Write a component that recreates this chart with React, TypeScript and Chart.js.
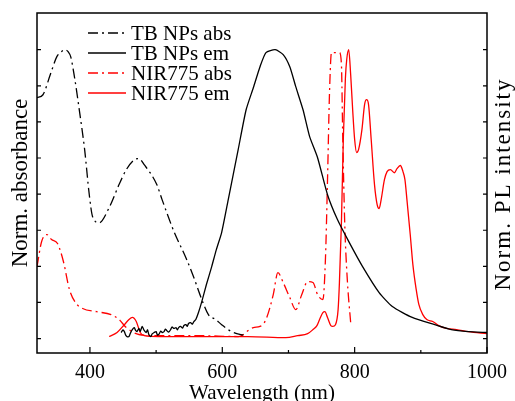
import React, { useEffect, useRef } from "react";
import { Chart, registerables } from "chart.js";

Chart.register(...registerables);

const FONT = "'Liberation Serif', 'Times New Roman', serif";

// TB NPs absorbance (normalized)
const tbAbsWl = [320, 329, 340, 350, 357, 362, 367, 371, 377, 384, 392, 399, 404, 414, 429, 444, 455, 467, 474, 482, 501, 509, 527, 545, 557, 569, 579, 590, 599, 614, 635];
const tbAbsVal = [0.834, 0.844, 0.913, 0.976, 0.993, 1.0, 0.993, 0.975, 0.9, 0.79, 0.654, 0.498, 0.422, 0.401, 0.453, 0.533, 0.585, 0.619, 0.623, 0.602, 0.533, 0.481, 0.37, 0.28, 0.211, 0.135, 0.083, 0.066, 0.048, 0.024, 0.01];

// TB NPs emission (normalized)
const tbEmWl = [447, 450, 452, 454, 456, 459, 461, 464, 467, 469, 471, 474, 476, 479, 482, 485, 487, 489, 492, 494, 497, 500, 502, 504, 507, 509, 512, 514, 516, 519, 522, 524, 527, 530, 532, 534, 537, 540, 542, 545, 547, 549, 552, 555, 557, 560, 564, 569, 576, 584, 591, 599, 609, 624, 636, 647, 657, 666, 680, 692, 702, 711, 722, 732, 744, 759, 774, 792, 812, 837, 857, 887, 921, 946, 972, 1000];
const tbEmVal = [0.021, 0.03, 0.024, 0.012, 0.007, 0.007, 0.018, 0.031, 0.038, 0.028, 0.024, 0.035, 0.025, 0.042, 0.028, 0.021, 0.03, 0.014, 0.007, 0.016, 0.021, 0.024, 0.012, 0.014, 0.026, 0.021, 0.024, 0.033, 0.028, 0.022, 0.031, 0.04, 0.035, 0.038, 0.03, 0.038, 0.042, 0.036, 0.045, 0.048, 0.042, 0.052, 0.055, 0.05, 0.059, 0.066, 0.09, 0.128, 0.187, 0.249, 0.308, 0.367, 0.481, 0.654, 0.792, 0.869, 0.941, 0.99, 1.0, 0.983, 0.941, 0.872, 0.792, 0.699, 0.626, 0.498, 0.412, 0.332, 0.249, 0.159, 0.111, 0.073, 0.048, 0.031, 0.024, 0.021];

// NIR775 absorbance (normalized)
const nirAbsWl = [320, 327, 335, 342, 351, 360, 369, 378, 389, 410, 432, 444, 455, 474, 504, 564, 624, 647, 657, 666, 677, 684, 692, 702, 711, 720, 729, 737, 744, 752, 756, 759, 762, 765, 767, 777, 780, 782, 785, 789, 794];
const nirAbsVal = [0.249, 0.336, 0.36, 0.343, 0.329, 0.266, 0.17, 0.125, 0.104, 0.093, 0.083, 0.066, 0.038, 0.014, 0.01, 0.01, 0.007, 0.038, 0.042, 0.066, 0.152, 0.228, 0.194, 0.142, 0.1, 0.152, 0.197, 0.194, 0.152, 0.135, 0.284, 0.55, 0.85, 0.99, 0.99, 0.99, 0.95, 0.7, 0.4, 0.2, 0.055];

// NIR775 emission (normalized)
const nirEmWl = [429, 441, 452, 459, 464, 470, 476, 482, 504, 564, 639, 696, 714, 729, 737, 743, 747, 752, 755, 759, 764, 767, 771, 775, 777, 780, 783, 786, 788, 791, 794, 797, 800, 803, 806, 811, 815, 818, 821, 825, 830, 834, 837, 840, 845, 849, 854, 860, 864, 869, 873, 876, 879, 884, 888, 893, 897, 903, 909, 918, 927, 939, 954, 972, 1000];
const nirEmVal = [0.007, 0.021, 0.048, 0.066, 0.073, 0.059, 0.021, 0.01, 0.007, 0.007, 0.007, 0.003, 0.01, 0.017, 0.031, 0.045, 0.066, 0.09, 0.093, 0.073, 0.045, 0.042, 0.048, 0.1, 0.194, 0.4, 0.7, 0.9, 0.965, 1.0, 0.913, 0.792, 0.689, 0.644, 0.655, 0.723, 0.81, 0.827, 0.81, 0.689, 0.533, 0.464, 0.45, 0.48, 0.55, 0.578, 0.585, 0.574, 0.588, 0.599, 0.578, 0.55, 0.481, 0.36, 0.256, 0.17, 0.118, 0.083, 0.066, 0.059, 0.045, 0.035, 0.031, 0.024, 0.017];

const seriesLabels = ["TB NPs abs", "TB NPs em", "NIR775 abs", "NIR775 em"];
const xMajorTicks = [400, 600, 800, 1000];
const xMinorTicks = [500, 700, 900];
const yTicks = [0, 0.125, 0.25, 0.375, 0.5, 0.625, 0.75, 0.875, 1.0];

const toPoints = (xs: number[], ys: number[]) => xs.map((x, i) => ({ x, y: ys[i] }));

const framePlugin = {
  id: "frame",
  afterDraw(chart: any) {
    const { ctx, chartArea } = chart;
    const { left, right, top, bottom } = chartArea;
    const xs = chart.scales.x;
    const ys = chart.scales.y;
    ctx.save();
    ctx.strokeStyle = "#000";
    ctx.lineWidth = 1.5;
    ctx.setLineDash([]);
    ctx.strokeRect(left, top, right - left, bottom - top);
    ctx.lineWidth = 1.2;
    ctx.beginPath();
    xMajorTicks.forEach((v) => {
      const p = xs.getPixelForValue(v);
      ctx.moveTo(p, bottom);
      ctx.lineTo(p, bottom - 6);
    });
    xMinorTicks.forEach((v) => {
      const p = xs.getPixelForValue(v);
      ctx.moveTo(p, bottom);
      ctx.lineTo(p, bottom - 3);
    });
    yTicks.forEach((v) => {
      const p = ys.getPixelForValue(v);
      ctx.moveTo(left, p);
      ctx.lineTo(left + 4, p);
      ctx.moveTo(right, p);
      ctx.lineTo(right - 4, p);
    });
    ctx.stroke();

    // legend
    ctx.font = `21px ${FONT}`;
    ctx.textBaseline = "middle";
    ctx.textAlign = "left";
    chart.data.datasets.forEach((ds: any, i: number) => {
      const y = 33 + i * 20;
      ctx.strokeStyle = ds.borderColor;
      ctx.lineWidth = ds.borderWidth;
      ctx.setLineDash(ds.borderDash || []);
      ctx.beginPath();
      ctx.moveTo(88, y);
      ctx.lineTo(126, y);
      ctx.stroke();
      ctx.setLineDash([]);
      ctx.fillStyle = "#000";
      ctx.fillText(ds.label, 131, y + 1);
    });

    // right axis title
    ctx.font = `23px ${FONT}`;
    try {
      (ctx as any).letterSpacing = "2px";
    } catch (e) {}
    ctx.translate(504, 184);
    ctx.rotate(-Math.PI / 2);
    ctx.textAlign = "center";
    ctx.textBaseline = "middle";
    ctx.fillStyle = "#000";
    ctx.fillText("Norm. PL intensity", 0, 0);
    try {
      (ctx as any).letterSpacing = "0px";
    } catch (e) {}
    ctx.restore();
  },
};

export default function App() {
  const ref = useRef<HTMLCanvasElement>(null);
  useEffect(() => {
    if (!ref.current) return;
    const dash = [10, 4, 2, 4];
    const chart = new Chart(ref.current, {
      type: "line",
      data: {
        datasets: [
          { label: seriesLabels[0], data: toPoints(tbAbsWl, tbAbsVal), borderColor: "#000", borderWidth: 1.3, borderDash: dash },
          { label: seriesLabels[1], data: toPoints(tbEmWl, tbEmVal), borderColor: "#000", borderWidth: 1.3, cubicInterpolationMode: "default", tension: 0.2 },
          { label: seriesLabels[2], data: toPoints(nirAbsWl, nirAbsVal), borderColor: "#ff0000", borderWidth: 1.3, borderDash: dash },
          { label: seriesLabels[3], data: toPoints(nirEmWl, nirEmVal), borderColor: "#ff0000", borderWidth: 1.3 },
        ],
      },
      options: {
        responsive: false,
        animation: false,
        devicePixelRatio: 1,
        layout: { padding: { top: 13, right: 24, left: 0, bottom: 0 } },
        elements: {
          point: { radius: 0 },
          line: { cubicInterpolationMode: "monotone", fill: false },
        },
        plugins: { legend: { display: false }, tooltip: { enabled: false } },
        scales: {
          x: {
            type: "linear",
            min: 320,
            max: 1000,
            grid: { display: false, drawTicks: false },
            border: { display: false },
            afterBuildTicks: (s: any) => {
              s.ticks = xMajorTicks.map((v) => ({ value: v }));
            },
            ticks: {
              font: { family: FONT, size: 20 },
              color: "#000",
              padding: 8,
              maxRotation: 0,
              autoSkip: false,
              callback: (v: any) => String(v),
            },
            title: {
              display: true,
              text: "Wavelength (nm)",
              font: { family: FONT, size: 21 },
              color: "#000",
              padding: { top: 0, bottom: -5 },
            },
            afterFit: (s: any) => {
              s.height = 48;
            },
          },
          y: {
            type: "linear",
            min: -0.05,
            max: 1.127,
            grid: { display: false, drawTicks: false },
            border: { display: false },
            ticks: { display: false },
            title: {
              display: true,
              text: "Norm. absorbance",
              font: { family: FONT, size: 23 },
              color: "#000",
              padding: { top: 7, bottom: 0 },
            },
            afterFit: (s: any) => {
              s.width = 37;
            },
          },
        },
      } as any,
      plugins: [framePlugin],
    });
    return () => chart.destroy();
  }, []);
  return (
    <div style={{ position: "fixed", left: 0, top: 0, width: 515, height: 401, background: "#fff" }}>
      <canvas ref={ref} width={515} height={401} />
    </div>
  );
}
